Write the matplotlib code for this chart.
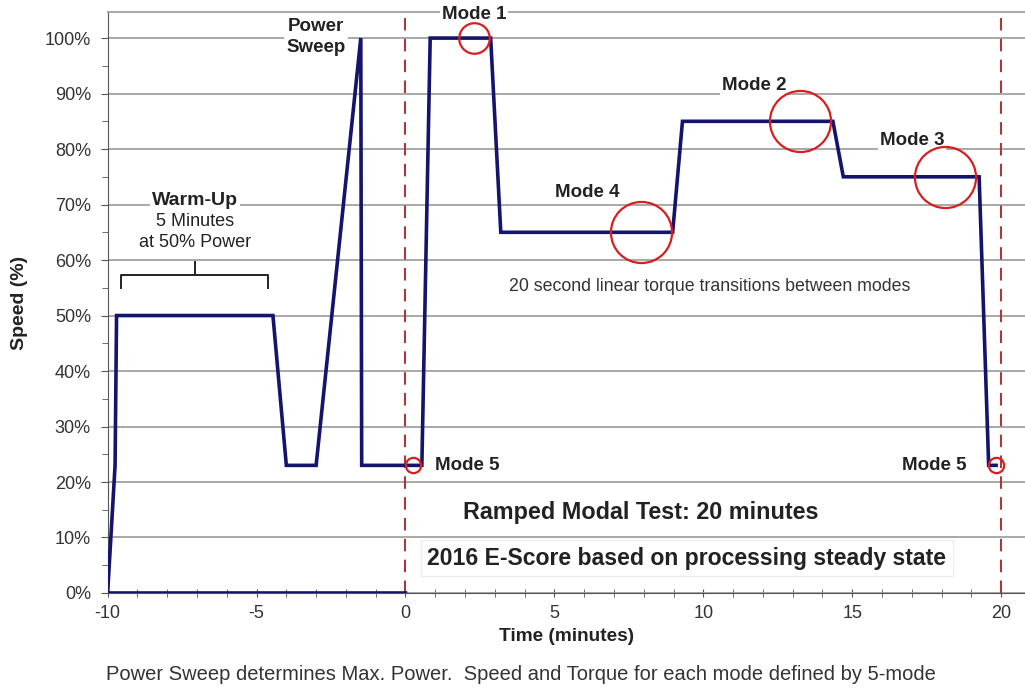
import numpy as np
import matplotlib.pyplot as plt
from matplotlib.ticker import MultipleLocator, FuncFormatter

plt.rcParams['font.family'] = ['Liberation Sans', 'DejaVu Sans']
plt.rcParams['axes.unicode_minus'] = False

# speed trace (minutes, % speed)
time_min = [0, -10, -9.75, -9.7, -4.45, -4.0, -3.0, -1.5, -1.47, 0.0, 0.55, 0.83,
            2.86, 3.2, 8.97, 9.3, 14.35, 14.7, 19.26, 19.58, 19.83]
speed_pct = [0, 0, 23, 50, 50, 23, 23, 100, 23, 23, 23, 100,
             100, 65, 65, 85, 85, 75, 75, 23, 23]

# mode markers
mode_x = [2.3, 13.25, 18.1, 7.9, 0.24, 19.83]
mode_y = [100, 85, 75, 65, 23, 23]
mode_size = [22, 44, 44, 44, 11, 11]

fig = plt.figure(figsize=(10.25, 6.9), dpi=100)
ax = fig.add_axes([0.105, 0.1406, 0.895, 0.842])

ax.set_xlim(-10, 20.8)
ax.set_ylim(0, 104.7)

ax.yaxis.set_major_locator(MultipleLocator(10))
ax.yaxis.set_minor_locator(MultipleLocator(5))
ax.yaxis.set_major_formatter(FuncFormatter(lambda v, p: '%d%%' % v))
ax.xaxis.set_major_locator(MultipleLocator(5))
ax.xaxis.set_minor_locator(MultipleLocator(1))

ax.grid(axis='y', which='major', color='#999999', lw=1.2, zorder=0)
ax.spines['right'].set_visible(False)
ax.spines['top'].set_color('#aaaaaa')
ax.spines['top'].set_linewidth(1.5)
ax.spines['left'].set_color('#555555')
ax.spines['bottom'].set_color('#555555')
ax.tick_params(axis='y', which='major', length=5, color='#555555', labelsize=13,
               labelcolor='#333333', pad=7)
ax.tick_params(axis='y', which='minor', length=4, color='#555555')
ax.tick_params(axis='x', which='both', direction='inout', length=6, color='#555555',
               labelsize=13, labelcolor='#333333', pad=6)

# dashed boundaries of the ramped modal test
for xv in [0, 20]:
    ax.axvline(xv, color='#a83a3a', ls=(0, (6, 4)), lw=1.5, zorder=2)

ax.plot(time_min, speed_pct, color='#14146e', lw=2.6, zorder=3, solid_joinstyle='miter')

for mx, my, ms in zip(mode_x, mode_y, mode_size):
    ax.plot(mx, my, 'o', ms=ms, mfc='none', mec='#d81e1e', mew=1.6, zorder=6)

box = dict(facecolor='white', edgecolor='none', pad=1.5)
lab = dict(fontsize=13.5, fontweight='bold', color='#222222')
ax.text(2.3, 104.3, 'Mode 1', ha='center', va='center', bbox=box, zorder=5, **lab)
ax.text(11.7, 91.5, 'Mode 2', ha='center', va='center', bbox=box, zorder=5, **lab)
ax.text(17.0, 81.6, 'Mode 3', ha='center', va='center', bbox=box, zorder=5, **lab)
ax.text(6.1, 72.2, 'Mode 4', ha='center', va='center', bbox=box, zorder=5, **lab)
ax.text(1.0, 23.0, 'Mode 5', ha='left', va='center', zorder=5, **lab)
ax.text(18.82, 23.0, 'Mode 5', ha='right', va='center', zorder=5, **lab)

ax.text(-3.0, 100.2, 'Power\nSweep', ha='center', va='center', bbox=box, zorder=5,
        fontsize=13.5, fontweight='bold', color='#222222', linespacing=1.35)

ax.text(-7.07, 70.8, 'Warm-Up', ha='center', va='center', fontsize=14, fontweight='bold',
        color='#222222', bbox=box, zorder=5)
ax.text(-7.07, 65.1, '5 Minutes\nat 50% Power', ha='center', va='center', fontsize=13,
        color='#222222', linespacing=1.3, bbox=box, zorder=5)

# brace above the warm-up period
bx0, bx1, bxm = -9.55, -4.6, -7.07
ax.plot([bx0, bx0, bx1, bx1], [55.0, 57.3, 57.3, 55.0], color='#222222', lw=1.4, zorder=5)
ax.plot([bxm, bxm], [57.3, 59.6], color='#222222', lw=1.4, zorder=5)

ax.text(10.2, 55.3, '20 second linear torque transitions between modes', ha='center',
        va='center', fontsize=12.8, color='#333333', zorder=5)
ax.text(7.9, 14.5, 'Ramped Modal Test: 20 minutes', ha='center', va='center',
        fontsize=16.8, fontweight='bold', color='#222222', zorder=5)
ax.text(9.45, 6.3, '2016 E-Score based on processing steady state', ha='center', va='center',
        fontsize=16.6, fontweight='bold', color='#222222', zorder=5,
        bbox=dict(facecolor='white', edgecolor='#eeeeee', pad=5))

ax.set_ylabel('Speed (%)', fontsize=14, fontweight='bold', color='#222222', labelpad=12)
ax.set_xlabel('Time (minutes)', fontsize=13.7, fontweight='bold', color='#222222', labelpad=4)

fig.text(0.508, 0.022, 'Power Sweep determines Max. Power.  Speed and Torque for each mode defined by 5-mode',
         ha='center', va='center', fontsize=14.5, color='#333333')

fig.savefig('out.png', dpi=100)
